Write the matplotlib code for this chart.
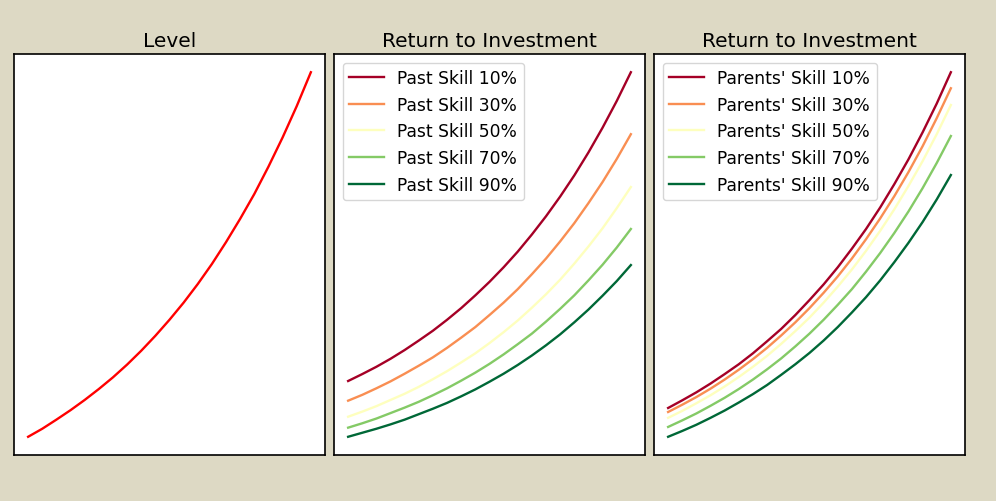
import numpy as np
import matplotlib as mpl
mpl.use('Agg')
import matplotlib.pyplot as plt


# skill grid (x axis is not shown, just an index)
skill = np.linspace(0, 1, 21)

level = [0.0, 0.022, 0.047, 0.073, 0.101, 0.131, 0.163, 0.198, 0.236, 0.277, 0.321,
         0.368, 0.419, 0.474, 0.534, 0.598, 0.666, 0.741, 0.821, 0.907, 1.0]

past_labels = ["Past Skill 10%", "Past Skill 30%", "Past Skill 50%",
               "Past Skill 70%", "Past Skill 90%"]
past_10 = [0.153, 0.172, 0.192, 0.214, 0.238, 0.264, 0.291, 0.321, 0.353, 0.388, 0.425,
           0.465, 0.508, 0.555, 0.605, 0.659, 0.717, 0.780, 0.848, 0.921, 1.0]
past_30 = [0.099, 0.115, 0.133, 0.152, 0.173, 0.195, 0.218, 0.244, 0.272, 0.301, 0.334,
           0.368, 0.405, 0.446, 0.489, 0.536, 0.586, 0.641, 0.699, 0.762, 0.830]
past_50 = [0.055, 0.069, 0.084, 0.101, 0.118, 0.137, 0.158, 0.180, 0.204, 0.229, 0.257,
           0.287, 0.319, 0.354, 0.391, 0.431, 0.475, 0.522, 0.572, 0.627, 0.685]
past_70 = [0.025, 0.037, 0.050, 0.065, 0.080, 0.096, 0.114, 0.133, 0.154, 0.176, 0.200,
           0.226, 0.254, 0.283, 0.316, 0.351, 0.388, 0.429, 0.472, 0.519, 0.570]
past_90 = [0.0, 0.011, 0.022, 0.034, 0.047, 0.062, 0.077, 0.093, 0.111, 0.130, 0.151,
           0.173, 0.197, 0.223, 0.251, 0.281, 0.314, 0.349, 0.387, 0.427, 0.471]

parent_labels = ["Parents' Skill 10%", "Parents' Skill 30%", "Parents' Skill 50%",
                 "Parents' Skill 70%", "Parents' Skill 90%"]
parent_10 = [0.079, 0.100, 0.122, 0.146, 0.172, 0.199, 0.229, 0.262, 0.296, 0.334, 0.375,
             0.418, 0.465, 0.516, 0.570, 0.629, 0.693, 0.761, 0.835, 0.914, 1.0]
parent_30 = [0.068, 0.088, 0.109, 0.132, 0.157, 0.184, 0.213, 0.244, 0.278, 0.314, 0.353,
             0.395, 0.440, 0.489, 0.542, 0.599, 0.660, 0.726, 0.797, 0.874, 0.956]
parent_50 = [0.052, 0.071, 0.092, 0.114, 0.138, 0.164, 0.192, 0.222, 0.255, 0.290, 0.327,
             0.368, 0.412, 0.459, 0.510, 0.565, 0.624, 0.688, 0.756, 0.830, 0.910]
parent_70 = [0.027, 0.045, 0.064, 0.085, 0.107, 0.131, 0.157, 0.185, 0.215, 0.248, 0.283,
             0.321, 0.362, 0.405, 0.453, 0.504, 0.559, 0.618, 0.682, 0.751, 0.825]
parent_90 = [0.0, 0.016, 0.033, 0.052, 0.072, 0.094, 0.117, 0.142, 0.170, 0.199, 0.230,
             0.264, 0.301, 0.341, 0.383, 0.429, 0.479, 0.532, 0.589, 0.651, 0.718]

past = [past_10, past_30, past_50, past_70, past_90]
parents = [parent_10, parent_30, parent_50, parent_70, parent_90]
cores = plt.cm.RdYlGn(np.linspace(0, 1, 5))

fig = plt.figure(figsize=(9.96, 5.02), dpi=100, facecolor='#ddd9c4')

largura = 311 / 996
altura = 401 / 502
base = 46 / 502
esquerdas = [14 / 996, 334 / 996, 654 / 996]

ax1 = fig.add_axes([esquerdas[0], base, largura, altura])
ax2 = fig.add_axes([esquerdas[1], base, largura, altura])
ax3 = fig.add_axes([esquerdas[2], base, largura, altura])

ax1.plot(skill, level, color='red', lw=1.7)
ax1.set_title("Level", fontsize=14.5)

for serie, lab, c in zip(past, past_labels, cores):
    ax2.plot(skill, serie, color=c, lw=1.7, label=lab)
ax2.set_title("Return to Investment", fontsize=14.5)
ax2.legend(loc='upper left', fontsize=12.3)

for serie, lab, c in zip(parents, parent_labels, cores):
    ax3.plot(skill, serie, color=c, lw=1.7, label=lab)
ax3.set_title("Return to Investment", fontsize=14.5)
ax3.legend(loc='upper left', fontsize=12.3)

for ax in (ax1, ax2, ax3):
    ax.set_xticks([])
    ax.set_yticks([])
    for s in ax.spines.values():
        s.set_linewidth(1.2)

fig.savefig('out.png', facecolor=fig.get_facecolor())
